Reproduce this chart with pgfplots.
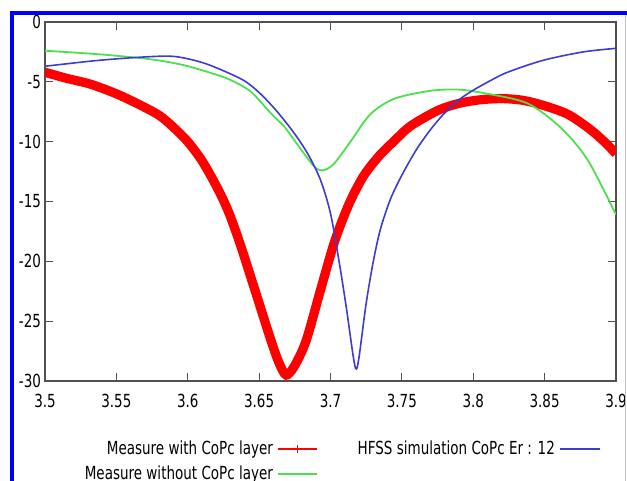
\documentclass[border=0pt]{standalone}
\usepackage{fontspec}
\setmainfont{DejaVu Sans}[FakeStretch=0.75]
\usepackage{pgfplots}
\pgfplotsset{compat=1.18}
\usetikzlibrary{calc}
\definecolor{frameblue}{HTML}{0000FF}
\definecolor{meas}{HTML}{FF0000}
\definecolor{nolayer}{HTML}{4CE04C}
\definecolor{hfss}{HTML}{3C3CD0}
\definecolor{axisgray}{HTML}{505050}

\pgfplotstableread{
x y
3.500 -4.2
3.515 -4.7
3.532 -5.2
3.550 -6.0
3.566 -6.9
3.580 -7.8
3.590 -8.8
3.600 -10.0
3.610 -11.6
3.620 -13.7
3.628 -15.7
3.636 -18.3
3.646 -22.0
3.658 -26.5
3.664 -28.5
3.669 -29.5
3.675 -28.7
3.683 -26.6
3.693 -22.4
3.703 -18.3
3.713 -15.2
3.723 -12.9
3.734 -11.2
3.745 -9.9
3.756 -8.7
3.775 -7.4
3.790 -6.8
3.805 -6.5
3.820 -6.4
3.835 -6.55
3.850 -7.0
3.866 -7.7
3.880 -8.8
3.890 -9.8
3.900 -11.0
}\withlayer

\pgfplotstableread{
x y
3.500 -2.4
3.538 -2.7
3.573 -3.1
3.597 -3.6
3.620 -4.4
3.630 -4.85
3.644 -5.8
3.658 -7.6
3.668 -8.8
3.676 -10.1
3.688 -12.0
3.694 -12.4
3.702 -11.9
3.714 -10.0
3.728 -7.7
3.745 -6.4
3.770 -5.75
3.790 -5.65
3.810 -6.0
3.838 -6.8
3.861 -8.8
3.880 -11.5
3.900 -16.1
}\withoutlayer

\pgfplotstableread{
x y
3.500 -3.7
3.538 -3.2
3.573 -2.9
3.592 -2.9
3.613 -3.5
3.638 -4.8
3.650 -5.9
3.662 -7.4
3.674 -9.2
3.684 -11.0
3.693 -13.2
3.700 -16.0
3.706 -20.0
3.711 -23.8
3.716 -28.0
3.718 -29.0
3.720 -28.0
3.725 -23.5
3.730 -20.0
3.735 -17.3
3.742 -14.8
3.750 -12.8
3.760 -10.7
3.770 -9.0
3.780 -7.6
3.790 -6.5
3.800 -5.7
3.812 -4.9
3.824 -4.2
3.849 -3.2
3.877 -2.5
3.900 -2.2
}\hfsssim

\begin{document}
\begin{tikzpicture}[x=1pt,y=1pt]
\begin{axis}[
  scale only axis,
  width=285.5pt, height=179.5pt,
  xmin=3.5, xmax=3.9, ymin=-30, ymax=0,
  xtick={3.5,3.55,...,3.91},
  ytick={-30,-25,...,0},
  xticklabels={3.5,3.55,3.6,3.65,3.7,3.75,3.8,3.85,3.9},
  /pgf/number format/assume math mode=true,
  tick align=inside,
  major tick length=4pt,
  tick style={axisgray, line width=0.6pt},
  axis line style={axisgray, line width=0.6pt},
  ticklabel style={font=\fontsize{9}{10.5}\selectfont},
  xticklabel style={yshift=-3pt},
  yticklabel style={xshift=1.5pt},
  legend columns=2,
  legend plot pos=right,
  legend cell align=right,
  legend style={
    at={(axis description cs:0.984,-0.143)}, anchor=north east,
    draw=none, fill=none,
    font=\fontsize{9}{10}\selectfont,
    row sep=0pt,
    /tikz/column 2/.style={column sep=18pt},
  },
]
\addplot[meas, line width=4.6pt, smooth, forget plot] table {\withlayer};
\addplot[nolayer, line width=0.9pt, smooth, forget plot] table {\withoutlayer};
\addplot[hfss, line width=0.8pt, smooth, forget plot] table {\hfsssim};

\addlegendimage{legend image code/.code={
  \draw[meas, line width=0.6pt] (0pt,0pt) -- (19.5pt,0pt);
  \draw[meas, line width=0.6pt] (9.75pt,-2pt) -- (9.75pt,2pt);}}
\addlegendentry{Measure with CoPc layer}
\addlegendimage{legend image code/.code={
  \draw[hfss, line width=0.8pt] (0pt,0pt) -- (20pt,0pt);}}
\addlegendentry{HFSS simulation CoPc Er : 12}
\addlegendimage{legend image code/.code={
  \draw[nolayer, line width=0.9pt] (0pt,0pt) -- (19.5pt,0pt);}}
\addlegendentry{Measure without CoPc layer}
\coordinate (SW) at (rel axis cs:0,0);
\end{axis}
\pgfresetboundingbox
\begin{scope}[shift={($(SW)+(-22.5pt,-50pt)$)}]
\path[use as bounding box] (0,0) rectangle (313.5,240.5);
\draw[gray!50, line width=0.5pt] (312.5,0) -- (312.5,234);
\draw[frameblue, line width=2pt] (6,0) -- (6,234) -- (313.5,234);
\end{scope}
\end{tikzpicture}
\end{document}
